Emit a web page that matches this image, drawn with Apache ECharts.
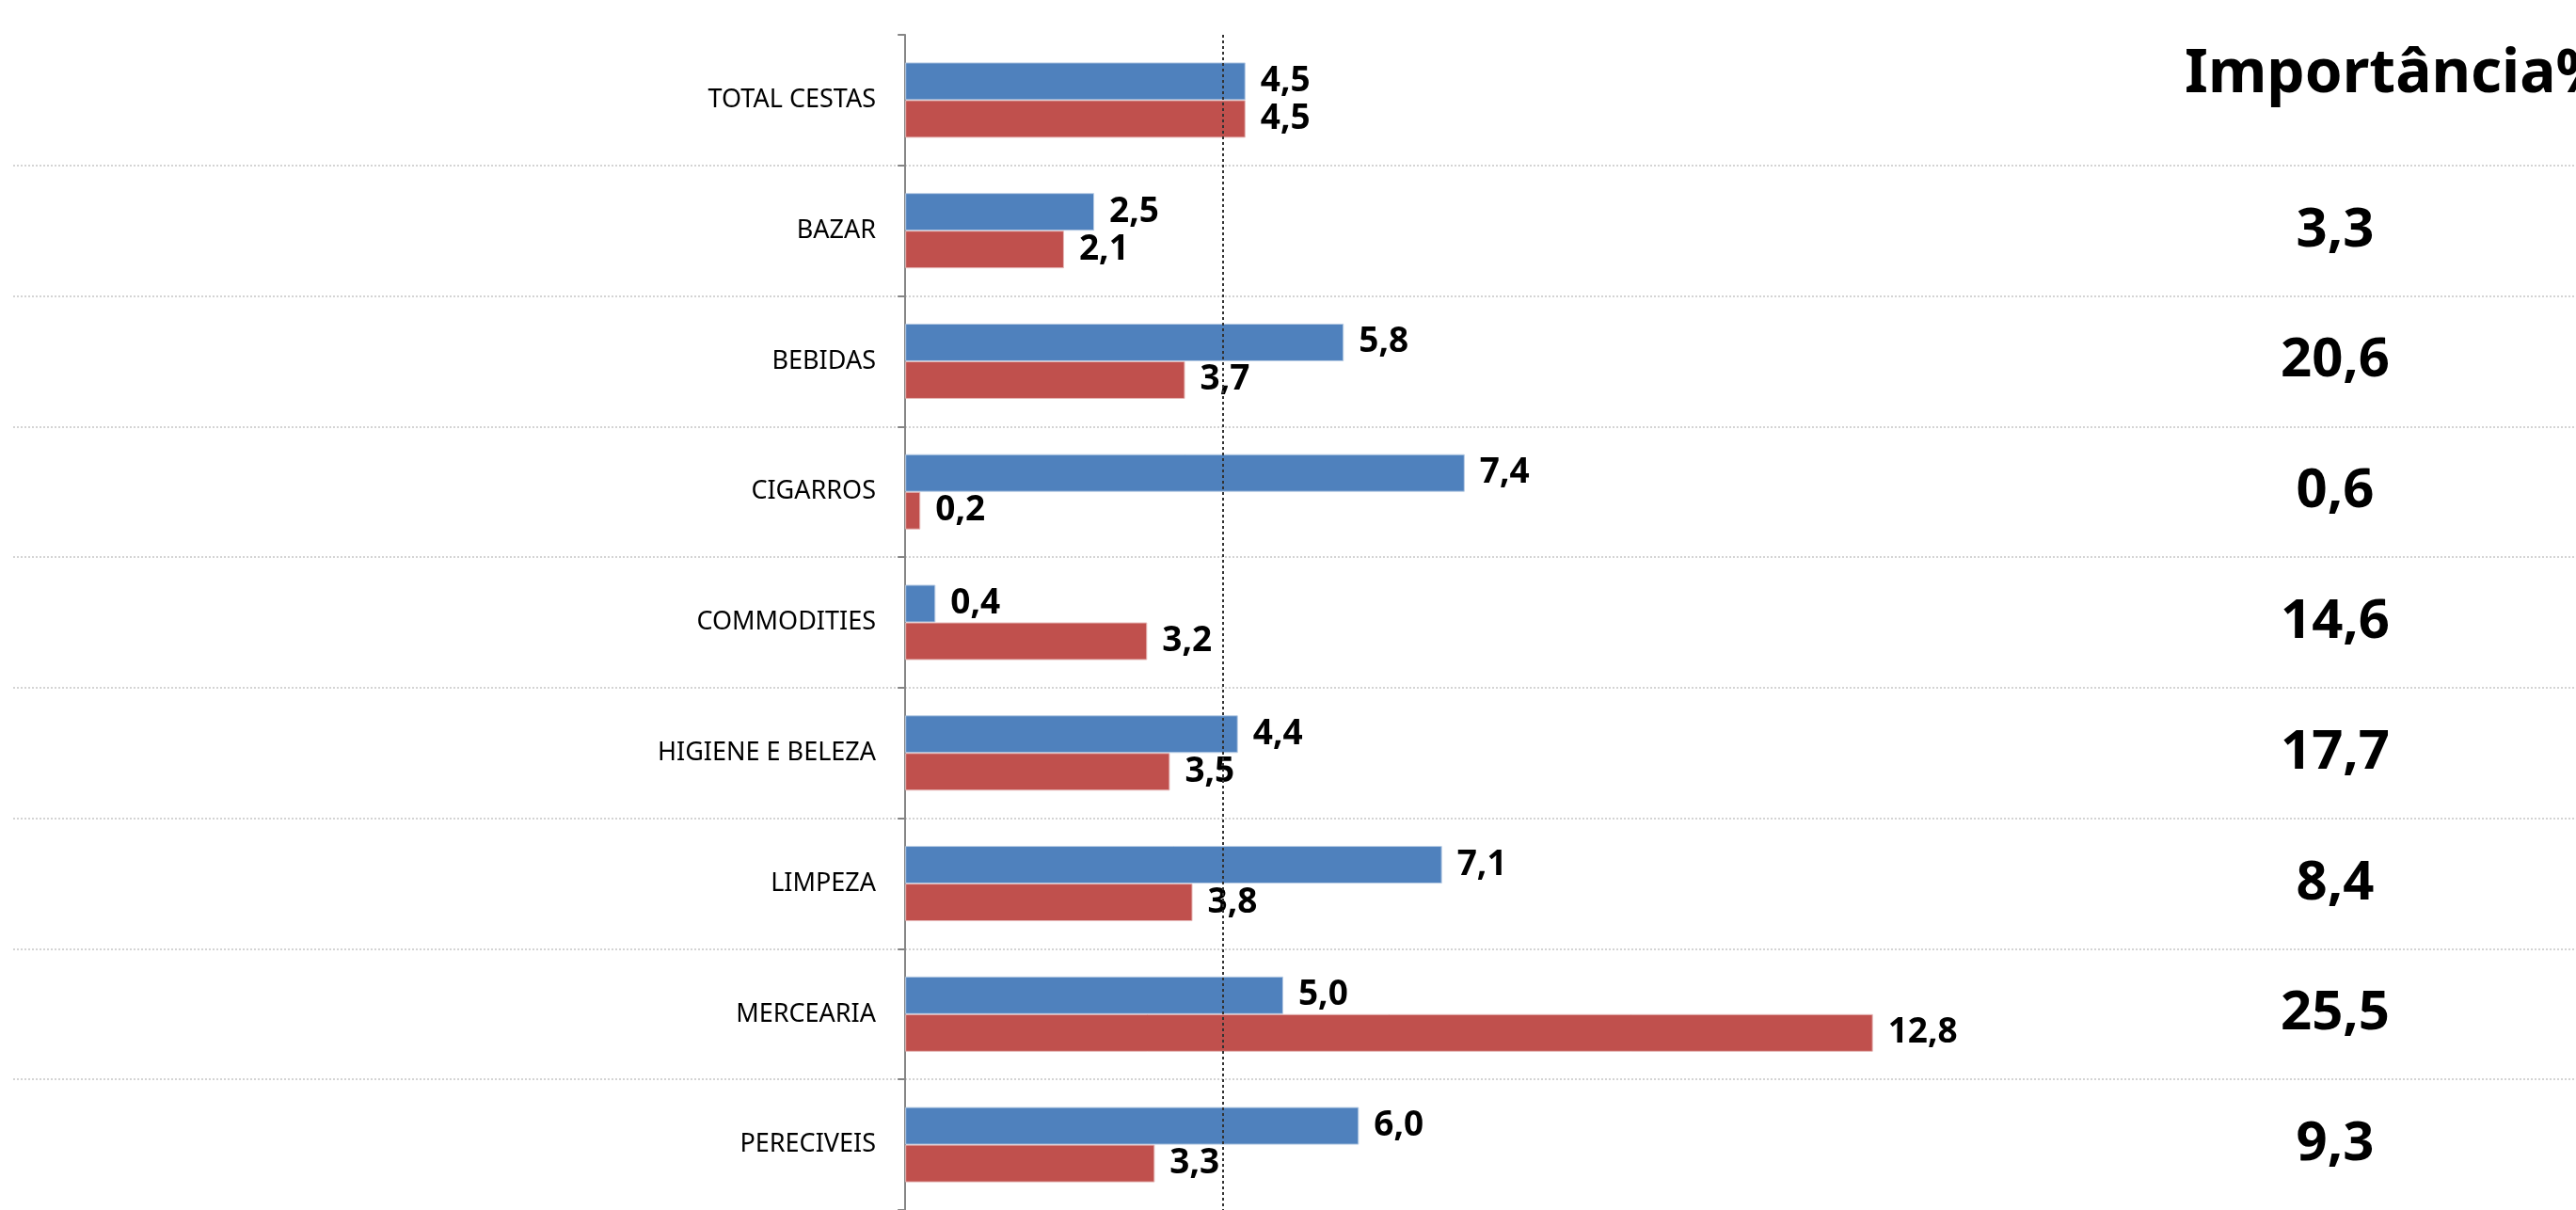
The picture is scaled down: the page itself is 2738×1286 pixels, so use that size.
<!DOCTYPE html>
<html>
<head>
<meta charset="utf-8">
<script src="https://cdn.jsdelivr.net/npm/echarts@6/dist/echarts.min.js"></script>
<style>html,body{margin:0;padding:0;background:#fff;}#c{width:2738px;height:1286px;}</style>
</head>
<body>
<div id="c"></div>
<script>
const categories = ['TOTAL CESTAS','BAZAR','BEBIDAS','CIGARROS','COMMODITIES','HIGIENE E BELEZA','LIMPEZA','MERCEARIA','PERECIVEIS'];
const seriesBlue = [4.5, 2.5, 5.8, 7.4, 0.4, 4.4, 7.1, 5.0, 6.0];
const seriesRed  = [4.5, 2.1, 3.7, 0.2, 3.2, 3.5, 3.8, 12.8, 3.3];
const importance = [null, 3.3, 20.6, 0.6, 14.6, 17.7, 8.4, 25.5, 9.3];
const importanceTitle = 'Importância%';
const refLine = 4.2;

const fmt = v => (v == null ? '' : v.toFixed(1).replace('.', ','));
const FONT = 'Noto Sans';

const chart = echarts.init(document.getElementById('c'));
chart.setOption({
  animation: false,
  backgroundColor: '#ffffff',
  title: {
    text: importanceTitle,
    left: 2317, top: 43,
    textStyle: { fontFamily: FONT, fontWeight: 'bold', fontSize: 64, color: '#000' }
  },
  grid: { left: 14, right: 0, top: 37, bottom: 0, containLabel: false, outerBoundsMode: 'none' },
  xAxis: {
    type: 'value', min: -11.8, max: 22.1,
    axisLine: { show: false }, axisTick: { show: false },
    axisLabel: { show: false }, splitLine: { show: false }
  },
  yAxis: [{
    type: 'category', data: categories, inverse: true,
    axisLine: { show: true, onZero: true, lineStyle: { color: '#868686', width: 2 } },
    axisTick: { show: true, length: 8, lineStyle: { color: '#868686', width: 2 } },
    axisLabel: { margin: -917, fontFamily: FONT, fontSize: 27, color: '#000' },
    splitLine: { show: true, showMinLine: false, showMaxLine: false,
      lineStyle: { color: '#D4D4D4', width: 2, type: 'dotted' } }
  }, {
    type: 'category', data: categories, inverse: true, position: 'right',
    axisLine: { show: false, onZero: false }, axisTick: { show: false },
    splitLine: { show: false },
    axisLabel: {
      inside: true, margin: 256, align: 'center',
      fontFamily: FONT, fontWeight: 'bold', fontSize: 58, color: '#000',
      formatter: (v, i) => fmt(importance[i])
    }
  }],
  series: [{
    type: 'bar', data: seriesBlue, barWidth: 40, barGap: '0%',
    itemStyle: { color: '#4F81BD', borderColor: '#B9CDE5', borderWidth: 1 },
    label: { show: true, position: 'right', distance: 16, formatter: p => fmt(p.value),
      fontFamily: FONT, fontWeight: 'bold', fontSize: 37, color: '#000' },
    markLine: {
      silent: true, symbol: 'none', label: { show: false },
      lineStyle: { color: '#333333', width: 2, type: [3, 3] },
      data: [{ xAxis: refLine }]
    }
  }, {
    type: 'bar', data: seriesRed, barWidth: 40, barGap: '0%',
    itemStyle: { color: '#C0504D', borderColor: '#E6B9B8', borderWidth: 1 },
    label: { show: true, position: 'right', distance: 16, formatter: p => fmt(p.value),
      fontFamily: FONT, fontWeight: 'bold', fontSize: 37, color: '#000' }
  }]
});
</script>
</body>
</html>
